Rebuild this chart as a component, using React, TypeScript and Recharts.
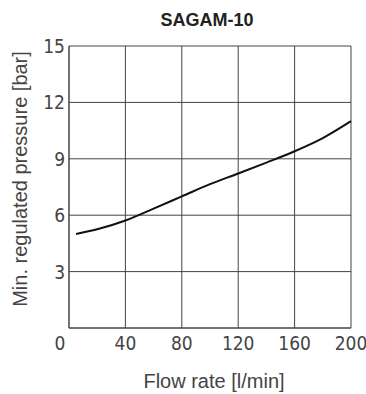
import { LineChart, Line, XAxis, YAxis, CartesianGrid, Label } from 'recharts';

// SAGAM-10 curve: min. regulated pressure vs flow rate
const flowRate = [5, 20, 40, 60, 80, 100, 120, 140, 160, 180, 200];
const minPressure = [5.0, 5.25, 5.72, 6.35, 7.0, 7.65, 8.22, 8.8, 9.4, 10.1, 11.0];
const xTicks = [0, 40, 80, 120, 160, 200];
const yTicks = [3, 6, 9, 12, 15];

const data = flowRate.map((f, i) => ({ flow: f, pressure: minPressure[i] }));

const tickFont = "'Liberation Sans Narrow', 'DejaVu Sans Condensed', sans-serif";
const labelFont = "'Liberation Sans', Arial, sans-serif";

const XTick = (props: any) => {
  const { x, y, payload } = props;
  // the 0 label sits a bit left of the corner in the original
  const shift = payload.value === 0 ? -9 : 0;
  return (
    <text x={x + shift} y={y} dy={22} textAnchor="middle" fill="#444" fontSize={19} fontFamily={tickFont}>
      {payload.value}
    </text>
  );
};

const YTick = (props: any) => {
  const { x, y, payload } = props;
  return (
    <text x={x} y={y} dy={7} textAnchor="end" fill="#444" fontSize={19} fontFamily={tickFont}>
      {payload.value}
    </text>
  );
};

export default function App() {
  return (
    <div style={{ position: 'absolute', left: 0, top: 0, width: 366, height: 394, background: '#fff' }}>
      <svg width={366} height={34} style={{ position: 'absolute', left: 0, top: 0 }}>
        <text x={207} y={26} textAnchor="middle" fill="#222" fontSize={18} fontWeight="bold" fontFamily={labelFont}>
          SAGAM-10
        </text>
      </svg>
      <div style={{ position: 'absolute', left: 0, top: 0 }}>
        <LineChart width={366} height={394} data={data} margin={{ top: 46, right: 15, bottom: 0, left: 0 }}>
          <CartesianGrid stroke="#444" strokeWidth={1} />
          <XAxis
            dataKey="flow"
            type="number"
            domain={[0, 200]}
            ticks={xTicks}
            height={66}
            tickLine={false}
            tickSize={0}
            tickMargin={0}
            axisLine={{ stroke: '#444' }}
            tick={<XTick />}
          >
            <Label
              content={() => (
                <text x={214} y={388} textAnchor="middle" fill="#444" fontSize={20} fontFamily={labelFont}>
                  Flow rate [l/min]
                </text>
              )}
            />
          </XAxis>
          <YAxis
            type="number"
            domain={[0, 15]}
            ticks={yTicks}
            width={69}
            tickLine={false}
            tickSize={0}
            tickMargin={4}
            axisLine={{ stroke: '#444' }}
            tick={<YTick />}
          >
            <Label
              content={() => (
                <text x={27} y={179} transform="rotate(-90 27 179)" textAnchor="middle" fill="#444" fontSize={20} fontFamily={labelFont}>
                  Min. regulated pressure [bar]
                </text>
              )}
            />
          </YAxis>
          <Line
            type="monotone"
            dataKey="pressure"
            stroke="#111"
            strokeWidth={2}
            dot={false}
            isAnimationActive={false}
          />
        </LineChart>
      </div>
    </div>
  );
}
